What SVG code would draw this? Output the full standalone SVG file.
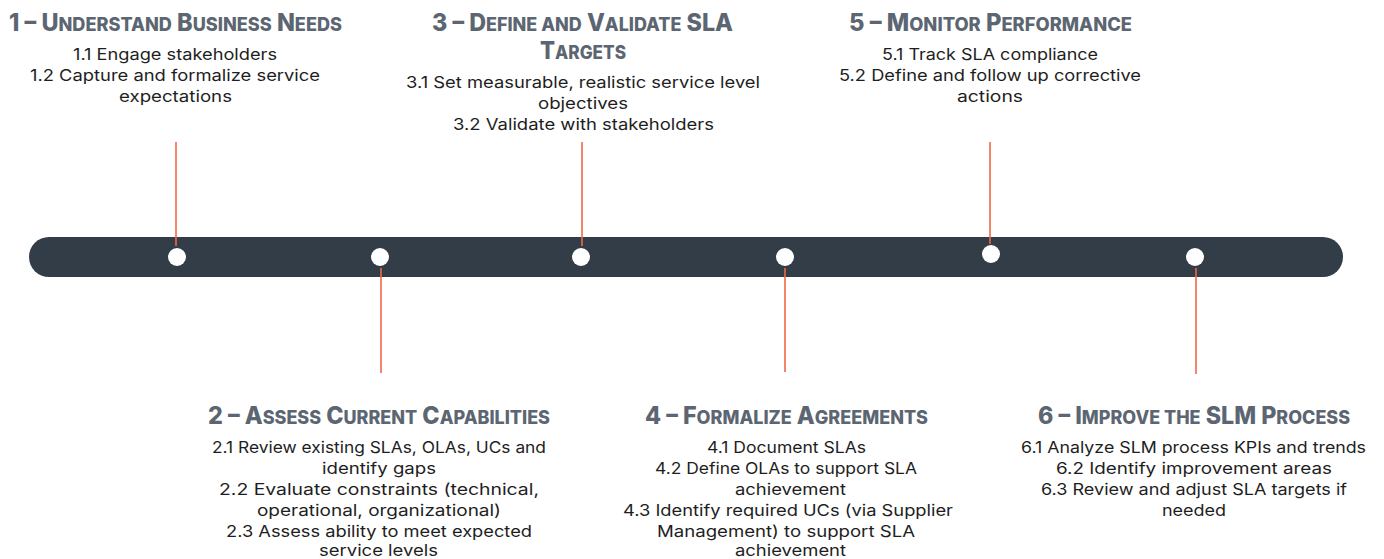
<svg xmlns="http://www.w3.org/2000/svg" width="1384" height="559" viewBox="0 0 1384 559">
  <style>
    .title { font-family: Inter, "Liberation Sans", sans-serif; font-weight: 800; font-size: 24px; fill: #5c6672; text-anchor: middle; }
    .sc { font-size: 18.5px; }
    .body { font-family: Inter, "Liberation Sans", sans-serif; font-weight: 400; font-size: 16px; fill: #1e1e1e; text-anchor: middle; }
    .tick { stroke: #f0684a; stroke-width: 1.6; }
    .dot { fill: #ffffff; }
  </style>
  <rect width="1384" height="559" fill="#ffffff"/>

  <!-- timeline bar -->
  <rect id="timeline" x="29" y="237" width="1314" height="40" rx="20" ry="20" fill="#333d48"/>

  <!-- connectors from milestones to labels -->
  <g id="connectors">
    <line class="tick" x1="176" y1="142" x2="176" y2="246"/>
    <line class="tick" x1="381" y1="268" x2="381" y2="373"/>
    <line class="tick" x1="582" y1="142" x2="582" y2="246"/>
    <line class="tick" x1="785" y1="268" x2="785" y2="372"/>
    <line class="tick" x1="990" y1="142" x2="990" y2="244"/>
    <line class="tick" x1="1196" y1="268" x2="1196" y2="374"/>
  </g>

  <!-- milestone dots -->
  <g id="dots">
    <circle class="dot" cx="177" cy="257" r="9"/>
    <circle class="dot" cx="380" cy="257" r="9"/>
    <circle class="dot" cx="581" cy="257" r="9"/>
    <circle class="dot" cx="785" cy="257" r="9"/>
    <circle class="dot" cx="991" cy="254" r="9"/>
    <circle class="dot" cx="1195" cy="257" r="9"/>
  </g>

  <g id="step1">
    <text class="title" x="175.5" y="31" textLength="333" lengthAdjust="spacingAndGlyphs">1 – U<tspan class="sc">NDERSTAND</tspan> B<tspan class="sc">USINESS</tspan> N<tspan class="sc">EEDS</tspan></text>
    <text class="body" x="175" y="60" textLength="204" lengthAdjust="spacingAndGlyphs">1.1 Engage stakeholders</text>
    <text class="body" x="175" y="81" textLength="290" lengthAdjust="spacingAndGlyphs">1.2 Capture and formalize service</text>
    <text class="body" x="175.5" y="102" textLength="113" lengthAdjust="spacingAndGlyphs">expectations</text>
  </g>

  <g id="step2">
    <text class="title" x="379" y="424" textLength="342" lengthAdjust="spacingAndGlyphs">2 – A<tspan class="sc">SSESS</tspan> C<tspan class="sc">URRENT</tspan> C<tspan class="sc">APABILITIES</tspan></text>
    <text class="body" x="379" y="453" textLength="334" lengthAdjust="spacingAndGlyphs">2.1 Review existing SLAs, OLAs, UCs and</text>
    <text class="body" x="379" y="474" textLength="114" lengthAdjust="spacingAndGlyphs">identify gaps</text>
    <text class="body" x="379" y="495" textLength="320" lengthAdjust="spacingAndGlyphs">2.2 Evaluate constraints (technical,</text>
    <text class="body" x="379" y="516" textLength="244" lengthAdjust="spacingAndGlyphs">operational, organizational)</text>
    <text class="body" x="379" y="537" textLength="306" lengthAdjust="spacingAndGlyphs">2.3 Assess ability to meet expected</text>
    <text class="body" x="378.5" y="556" textLength="119" lengthAdjust="spacingAndGlyphs">service levels</text>
  </g>

  <g id="step3">
    <text class="title" x="582.5" y="31" textLength="301" lengthAdjust="spacingAndGlyphs">3 – D<tspan class="sc">EFINE AND</tspan> V<tspan class="sc">ALIDATE</tspan> SLA</text>
    <text class="title" x="583" y="59" textLength="86" lengthAdjust="spacingAndGlyphs">T<tspan class="sc">ARGETS</tspan></text>
    <text class="body" x="583" y="88" textLength="354" lengthAdjust="spacingAndGlyphs">3.1 Set measurable, realistic service level</text>
    <text class="body" x="583" y="109" textLength="90" lengthAdjust="spacingAndGlyphs">objectives</text>
    <text class="body" x="583.5" y="130" textLength="261" lengthAdjust="spacingAndGlyphs">3.2 Validate with stakeholders</text>
  </g>

  <g id="step4">
    <text class="title" x="786.5" y="424" textLength="283" lengthAdjust="spacingAndGlyphs">4 – F<tspan class="sc">ORMALIZE</tspan> A<tspan class="sc">GREEMENTS</tspan></text>
    <text class="body" x="786.5" y="453" textLength="159" lengthAdjust="spacingAndGlyphs">4.1 Document SLAs</text>
    <text class="body" x="786" y="474" textLength="262" lengthAdjust="spacingAndGlyphs">4.2 Define OLAs to support SLA</text>
    <text class="body" x="790.5" y="495" textLength="111" lengthAdjust="spacingAndGlyphs">achievement</text>
    <text class="body" x="788" y="516" textLength="330" lengthAdjust="spacingAndGlyphs">4.3 Identify required UCs (via Supplier</text>
    <text class="body" x="786" y="537" textLength="258" lengthAdjust="spacingAndGlyphs">Management) to support SLA</text>
    <text class="body" x="790.5" y="556" textLength="111" lengthAdjust="spacingAndGlyphs">achievement</text>
  </g>

  <g id="step5">
    <text class="title" x="990.5" y="31" textLength="283" lengthAdjust="spacingAndGlyphs">5 – M<tspan class="sc">ONITOR</tspan> P<tspan class="sc">ERFORMANCE</tspan></text>
    <text class="body" x="990" y="60" textLength="216" lengthAdjust="spacingAndGlyphs">5.1 Track SLA compliance</text>
    <text class="body" x="990" y="81" textLength="302" lengthAdjust="spacingAndGlyphs">5.2 Define and follow up corrective</text>
    <text class="body" x="990" y="102" textLength="66" lengthAdjust="spacingAndGlyphs">actions</text>
  </g>

  <g id="step6">
    <text class="title" x="1194" y="424" textLength="312" lengthAdjust="spacingAndGlyphs">6 – I<tspan class="sc">MPROVE THE</tspan> SLM P<tspan class="sc">ROCESS</tspan></text>
    <text class="body" x="1193.5" y="453" textLength="345" lengthAdjust="spacingAndGlyphs">6.1 Analyze SLM process KPIs and trends</text>
    <text class="body" x="1194" y="474" textLength="276" lengthAdjust="spacingAndGlyphs">6.2 Identify improvement areas</text>
    <text class="body" x="1194" y="495" textLength="306" lengthAdjust="spacingAndGlyphs">6.3 Review and adjust SLA targets if</text>
    <text class="body" x="1194" y="516" textLength="64" lengthAdjust="spacingAndGlyphs">needed</text>
  </g>
</svg>
